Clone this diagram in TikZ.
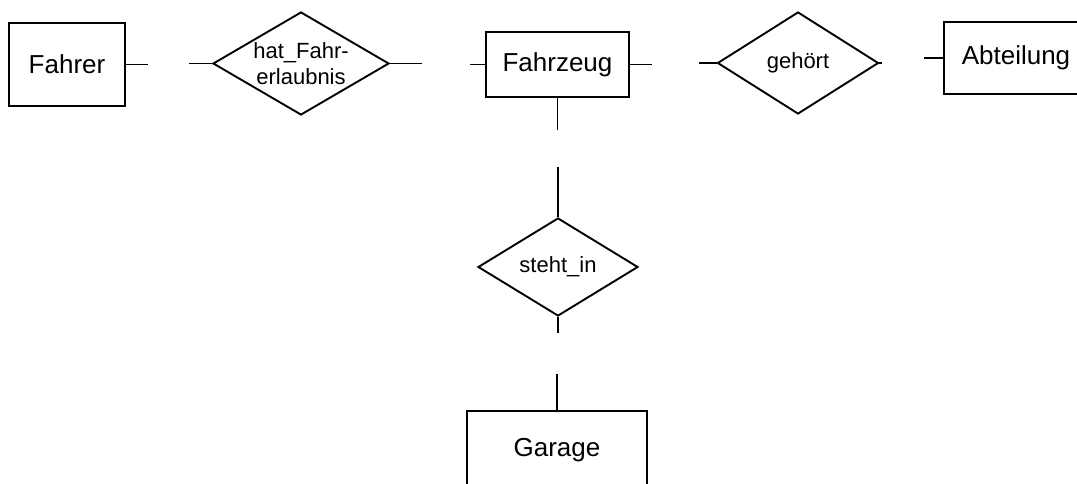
\documentclass[tikz,border=0pt]{standalone}
\usepackage{fontspec}
\setmainfont{Liberation Sans}
\usepackage{tikz}
\usetikzlibrary{shapes.geometric}

\begin{document}
\begin{tikzpicture}[x=1pt, y=-1pt, line width=1.9pt,
    entity/.style={draw, rectangle, inner sep=0pt, font=\fontsize{26}{30}\selectfont},
    relation/.style={draw, diamond, inner sep=0pt, shape aspect=1.7, align=center, font=\fontsize{22}{26}\selectfont}]
    \useasboundingbox (0,0) rectangle (1077,484);
    \node[entity, minimum width=116, minimum height=83] (E1) at (67,64.5) {Fahrer};
    \node[relation, minimum width=176, minimum height=103] (R1) at (301,63.5) {hat\_Fahr-\\erlaubnis};
    \node[entity, minimum width=143, minimum height=65] (E2) at (557.5,64.5) {Fahrzeug};
    \node[relation, minimum width=161, minimum height=102] (R2) at (798,63) {gehört};
    \node[entity, minimum width=144, minimum height=72] (E3) at (1016,58) {Abteilung};
    \node[relation, minimum width=160, minimum height=98] (R3) at (558,267) {steht\_in};
    \node[entity, minimum width=180, minimum height=78] (E4) at (557,450) {Garage};
    \coordinate (S1) at (148,64.5);
    \coordinate (S2) at (189,63.5);
    \coordinate (S3) at (422,63.5);
    \coordinate (S4) at (470,64.5);
    \coordinate (S5) at (652,64.5);
    \coordinate (S6) at (557.5,130);
    \coordinate (S7) at (699,63);
    \coordinate (S8) at (882,63);
    \coordinate (S9) at (924,58);
    \coordinate (S10) at (558,167);
    \coordinate (S11) at (558,333);
    \coordinate (S12) at (557,374);
    \draw (E1.east)--(S1);
    \draw (S2)--(R1.west);
    \draw (R1.east)--(S3);
    \draw (S4)--(E2.west);
    \draw (E2.east)--(S5);
    \draw (E2.south)--(S6);
    \draw (S7)--(R2.west);
    \draw (R2.east)--(S8);
    \draw (S9)--(E3.west);
    \draw (S10)--(R3.north);
    \draw (R3.south)--(S11);
    \draw (S12)--(E4.north);
\end{tikzpicture}
\end{document}
